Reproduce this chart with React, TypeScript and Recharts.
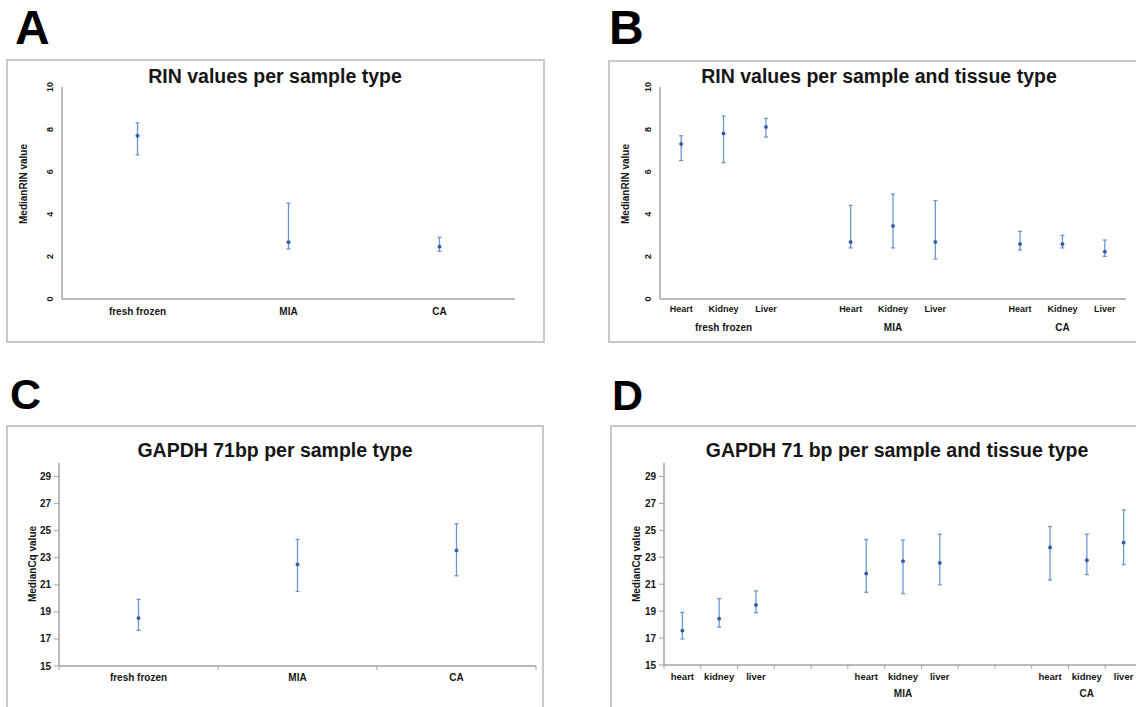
import { ComposedChart, Line, ErrorBar, XAxis, YAxis } from 'recharts';

const FONT = "'Liberation Sans', Arial, Helvetica, sans-serif";
const TEXT = '#161616';
const AXIS = '#a3a3a3';
const FRAME = '#c9c9c9';
const ERR = '#6e97d2';
const DOT = '#2d5ba6';

// A - RIN values per sample type
const rinTypeLabels = ['fresh frozen', 'MIA', 'CA'];
const rinTypeMedian = [7.7, 2.68, 2.47];
const rinTypeLow = [6.8, 2.36, 2.25];
const rinTypeHigh = [8.31, 4.52, 2.91];

// B - RIN values per sample and tissue type ('' = empty slot between groups)
const rinTissueLabels = ['Heart', 'Kidney', 'Liver', '', 'Heart', 'Kidney', 'Liver', '', 'Heart', 'Kidney', 'Liver'];
const rinTissueGroups = ['', 'fresh frozen', '', '', '', 'MIA', '', '', '', 'CA', ''];
const rinTissueMedian = [7.31, 7.81, 8.11, null, 2.69, 3.44, 2.69, null, 2.59, 2.59, 2.23];
const rinTissueLow = [6.53, 6.43, 7.64, null, 2.41, 2.41, 1.89, null, 2.31, 2.41, 2.01];
const rinTissueHigh = [7.7, 8.63, 8.52, null, 4.42, 4.95, 4.64, null, 3.19, 3.0, 2.78];

// C - GAPDH 71bp per sample type
const cqTypeLabels = ['fresh frozen', 'MIA', 'CA'];
const cqTypeMedian = [18.54, 22.5, 23.54];
const cqTypeLow = [17.63, 20.51, 21.67];
const cqTypeHigh = [19.92, 24.35, 25.51];

// D - GAPDH 71 bp per sample and tissue type
const cqTissueLabels = ['heart', 'kidney', 'liver', '', '', 'heart', 'kidney', 'liver', '', '', 'heart', 'kidney', 'liver'];
const cqTissueGroups = ['', '', '', '', '', '', 'MIA', '', '', '', '', 'CA', ''];
const cqTissueMedian = [17.55, 18.44, 19.46, null, null, 21.79, 22.71, 22.58, null, null, 23.72, 22.78, 24.09];
const cqTissueLow = [16.93, 17.82, 18.89, null, null, 20.4, 20.3, 20.95, null, null, 21.32, 21.71, 22.46];
const cqTissueHigh = [18.91, 19.93, 20.5, null, null, 24.32, 24.27, 24.71, null, null, 25.28, 24.71, 26.52];

const rinTicks = [0, 2, 4, 6, 8, 10];
const cqTicks = [15, 17, 19, 21, 23, 25, 27, 29];

type Row = { id: string; label: string; group: string; median: number | null; err: number[] | null };

function buildRows(labels: string[], groups: string[] | null, median: (number | null)[], low: (number | null)[], high: (number | null)[]): Row[] {
  return labels.map((label, i) => {
    const m = median[i];
    return {
      id: `s${i}`,
      label,
      group: groups ? groups[i] : '',
      median: m,
      err: m == null ? null : [m - (low[i] as number), (high[i] as number) - m],
    };
  });
}

const RotatedTick = (p: any) => (
  <text
    transform={`translate(${p.x - 1.5},${p.y}) rotate(-90)`}
    textAnchor="middle"
    fontSize={9}
    fontWeight={700}
    fill={TEXT}
    fontFamily={FONT}
  >
    {p.payload.value}
  </text>
);

type PanelProps = {
  left: number;
  top: number;
  width: number;
  height: number;
  margin: { top: number; right: number; left: number; bottom: number };
  yWidth: number;
  xHeight: number;
  rows: Row[];
  domain: [number, number];
  yTicks: number[];
  rotatedY: boolean;
  tickMarks: boolean;
  labelFs: number;
  labelDy: number;
  groupDy: number;
};

function Panel(props: PanelProps) {
  const { rows } = props;

  // category label + group label; Excel-style tick marks sit between categories
  const CatTick = (p: any) => {
    const idx = rows.findIndex((r) => r.id === p.payload.value);
    const row = rows[idx];
    if (!row) return <g />;
    const half = p.payload.offset || p.width / rows.length / 2;
    const axisY = p.y - 8;
    return (
      <g>
        {props.tickMarks && <line x1={p.x - half} x2={p.x - half} y1={axisY} y2={axisY + 4} stroke={AXIS} strokeWidth={1} />}
        {props.tickMarks && idx === rows.length - 1 && (
          <line x1={p.x + half} x2={p.x + half} y1={axisY} y2={axisY + 4} stroke={AXIS} strokeWidth={1} />
        )}
        {row.label && (
          <text x={p.x} y={p.y + props.labelDy} textAnchor="middle" fontSize={props.labelFs} fontWeight={700} fill={TEXT} fontFamily={FONT}>
            {row.label}
          </text>
        )}
        {row.group && (
          <text x={p.x} y={p.y + props.groupDy} textAnchor="middle" fontSize={10} fontWeight={700} fill={TEXT} fontFamily={FONT}>
            {row.group}
          </text>
        )}
      </g>
    );
  };

  return (
    <>
      <div
        style={{
          position: 'absolute',
          left: props.left,
          top: props.top,
          width: props.width,
          height: props.height,
          border: `2px solid ${FRAME}`,
          boxSizing: 'border-box',
        }}
      />
      <div style={{ position: 'absolute', left: props.left, top: props.top }}>
        <ComposedChart width={props.width} height={props.height} data={rows} margin={props.margin}>
          <XAxis
            dataKey="id"
            scale="band"
            height={props.xHeight}
            interval={0}
            tickSize={6}
            tickMargin={2}
            tickLine={false}
            axisLine={{ stroke: AXIS, strokeWidth: 1.5 }}
            tick={CatTick}
          />
          <YAxis
            width={props.yWidth}
            domain={props.domain}
            ticks={props.yTicks}
            allowDataOverflow
            interval={0}
            tickSize={props.rotatedY ? 6 : 5}
            tickMargin={props.rotatedY ? 2 : 3}
            tickLine={props.rotatedY ? false : { stroke: AXIS }}
            axisLine={{ stroke: AXIS, strokeWidth: 1.5 }}
            tick={props.rotatedY ? RotatedTick : { fontSize: 10, fontWeight: 700, fill: TEXT, fontFamily: FONT }}
          />
          <Line
            dataKey="median"
            stroke="none"
            dot={{ r: 1.7, fill: DOT, stroke: DOT, strokeWidth: 0.5 }}
            activeDot={false}
            isAnimationActive={false}
          >
            <ErrorBar dataKey="err" direction="y" width={2} stroke={ERR} strokeWidth={1.3} isAnimationActive={false} />
          </Line>
        </ComposedChart>
      </div>
    </>
  );
}

function Txt({ x, y, fs, text, rotate }: { x: number; y: number; fs: number; text: string; rotate?: boolean }) {
  return (
    <div
      style={{
        position: 'absolute',
        left: x,
        top: y,
        transform: `translate(-50%, -50%)${rotate ? ' rotate(-90deg)' : ''}`,
        fontSize: fs,
        fontWeight: 700,
        lineHeight: 1,
        whiteSpace: 'nowrap',
        color: TEXT,
        fontFamily: FONT,
      }}
    >
      {text}
    </div>
  );
}

function Letter({ x, y, fs, text }: { x: number; y: number; fs: number; text: string }) {
  return (
    <div
      style={{
        position: 'absolute',
        left: x,
        top: y,
        fontSize: fs,
        fontWeight: 700,
        lineHeight: 1,
        color: '#000',
        fontFamily: FONT,
      }}
    >
      {text}
    </div>
  );
}

export default function App() {
  const rowsA = buildRows(rinTypeLabels, null, rinTypeMedian, rinTypeLow, rinTypeHigh);
  const rowsB = buildRows(rinTissueLabels, rinTissueGroups, rinTissueMedian, rinTissueLow, rinTissueHigh);
  const rowsC = buildRows(cqTypeLabels, null, cqTypeMedian, cqTypeLow, cqTypeHigh);
  const rowsD = buildRows(cqTissueLabels, cqTissueGroups, cqTissueMedian, cqTissueLow, cqTissueHigh);

  return (
    <div
      style={{
        position: 'absolute',
        left: 0,
        top: 0,
        width: 1136,
        height: 707,
        overflow: 'hidden',
        background: '#fff',
        fontFamily: FONT,
      }}
    >
      <Letter x={15} y={4} fs={48} text="A" />
      <Letter x={609} y={4} fs={48} text="B" />
      <Letter x={10} y={373} fs={43} text="C" />
      <Letter x={612} y={374} fs={43} text="D" />

      {/* A */}
      <Panel
        left={6}
        top={59}
        width={539}
        height={284}
        margin={{ top: 28, right: 30, left: 0, bottom: 0 }}
        yWidth={56}
        xHeight={44}
        rows={rowsA}
        domain={[0, 10]}
        yTicks={rinTicks}
        rotatedY
        tickMarks={false}
        labelFs={10}
        labelDy={7.5}
        groupDy={0}
      />
      <Txt x={275} y={77} fs={19.5} text="RIN values per sample type" />
      <Txt x={24} y={184} fs={10} text="MedianRIN value" rotate />

      {/* B */}
      <Panel
        left={608}
        top={60}
        width={542}
        height={283}
        margin={{ top: 27, right: 24, left: 0, bottom: 0 }}
        yWidth={52}
        xHeight={44}
        rows={rowsB}
        domain={[0, 10]}
        yTicks={rinTicks}
        rotatedY
        tickMarks={false}
        labelFs={9}
        labelDy={5.2}
        groupDy={23.6}
      />
      <Txt x={879} y={77} fs={19.5} text="RIN values per sample and tissue type" />
      <Txt x={626} y={184} fs={10} text="MedianRIN value" rotate />

      {/* C */}
      <Panel
        left={6}
        top={425}
        width={538}
        height={300}
        margin={{ top: 38, right: 8, left: 0, bottom: 0 }}
        yWidth={53}
        xHeight={59}
        rows={rowsC}
        domain={[15, 30]}
        yTicks={cqTicks}
        rotatedY={false}
        tickMarks
        labelFs={10}
        labelDy={6.6}
        groupDy={0}
      />
      <Txt x={275} y={451} fs={19.5} text="GAPDH 71bp per sample type" />
      <Txt x={33} y={564} fs={10} text="MedianCq value" rotate />

      {/* D */}
      <Panel
        left={610}
        top={425}
        width={560}
        height={300}
        margin={{ top: 38, right: 28, left: 0, bottom: 0 }}
        yWidth={54}
        xHeight={60}
        rows={rowsD}
        domain={[15, 30]}
        yTicks={cqTicks}
        rotatedY={false}
        tickMarks
        labelFs={9.5}
        labelDy={7.4}
        groupDy={23.6}
      />
      <Txt x={897} y={451} fs={19.5} text="GAPDH 71 bp per sample and tissue type" />
      <Txt x={637} y={564} fs={10} text="MedianCq value" rotate />
    </div>
  );
}
